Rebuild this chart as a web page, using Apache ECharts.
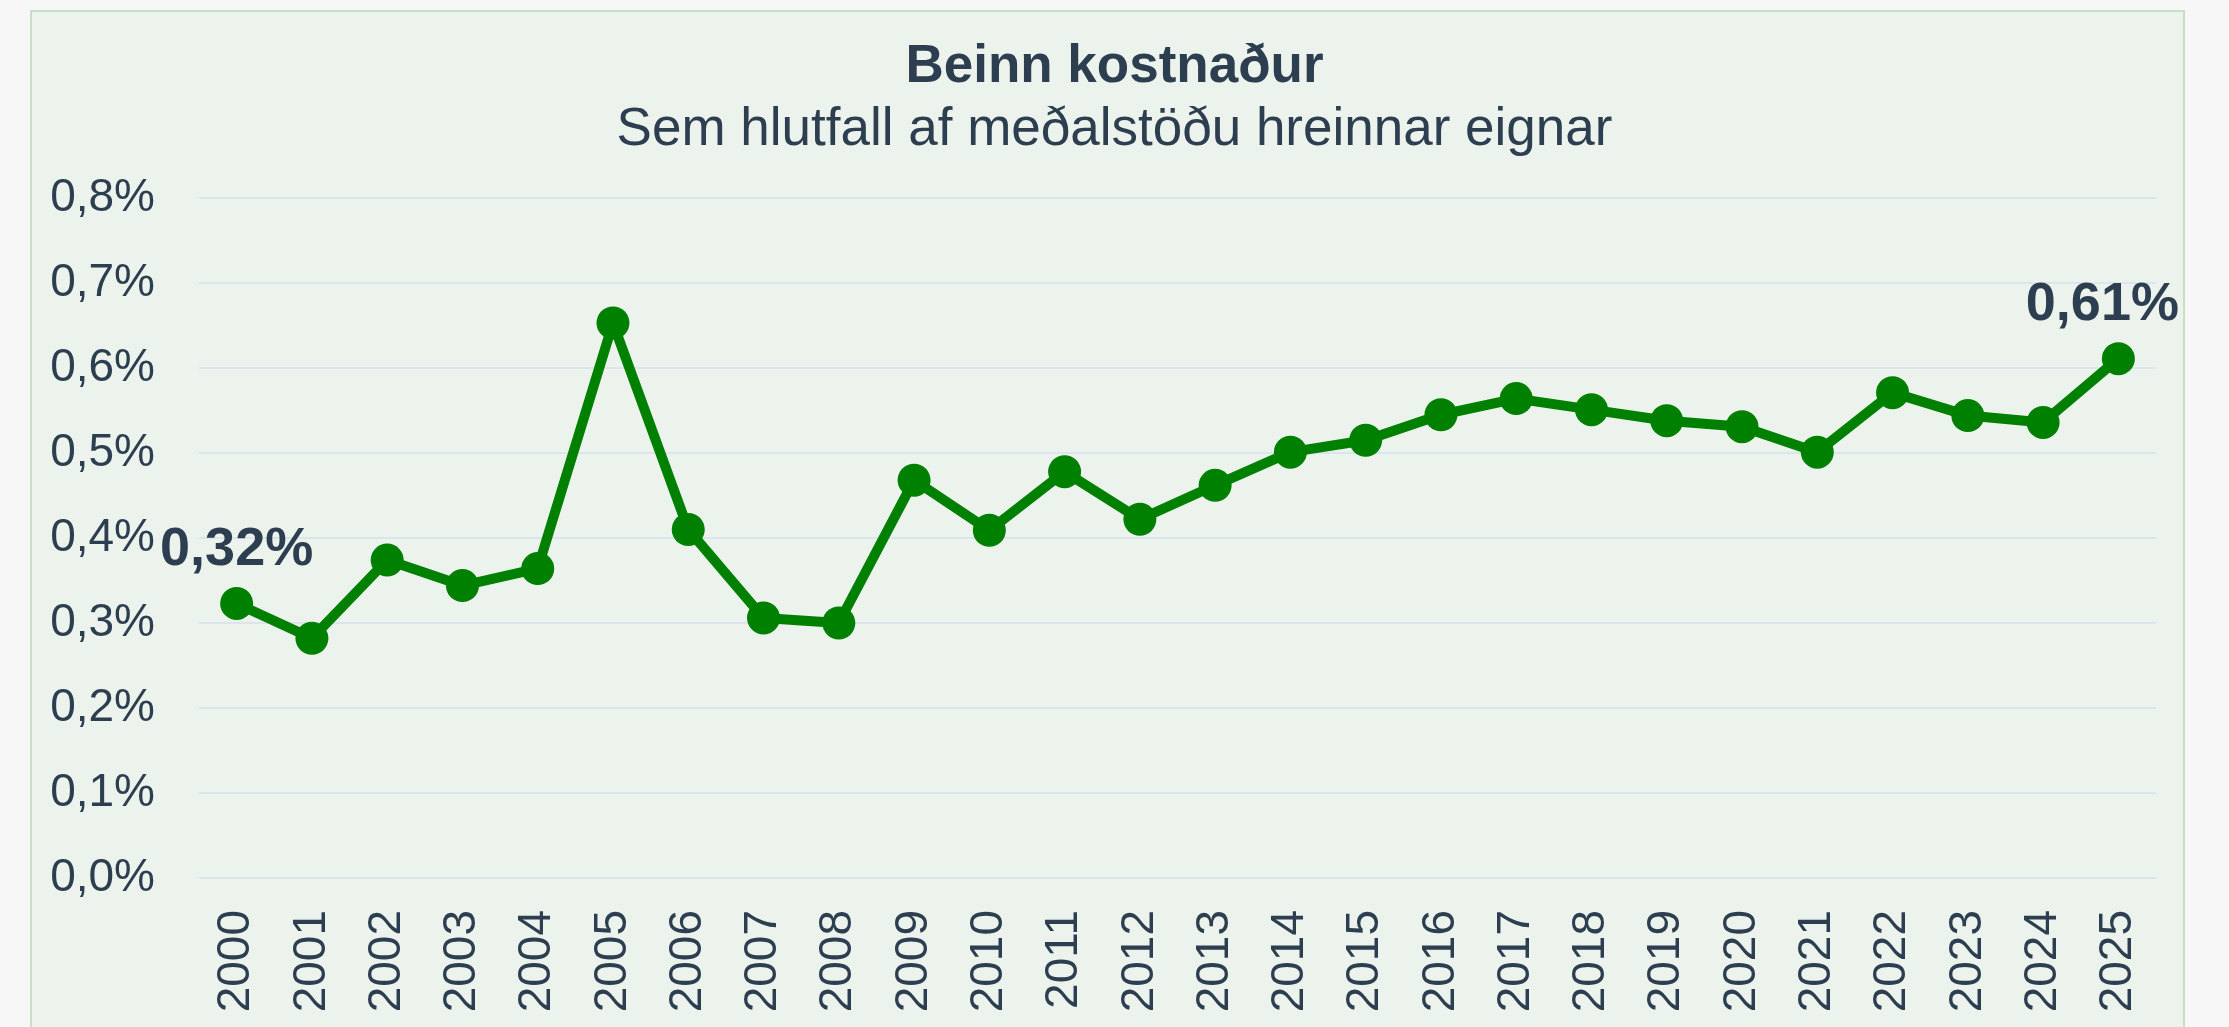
<!DOCTYPE html>
<html>
<head>
<meta charset="utf-8">
<script src="https://cdn.jsdelivr.net/npm/echarts@6/dist/echarts.min.js"></script>
<style>
  html, body {
    margin: 0;
    padding: 0;
    background: #f7f7f7;
    width: 2229px;
    height: 1027px;
    overflow: hidden;
  }
  .card {
    position: absolute;
    left: 30px;
    top: 10px;
    width: 2155px;
    height: 1100px;
    background: #ecf3ec;
    border: 2px solid #c6e0c6;
    box-sizing: border-box;
  }
  #chart {
    position: absolute;
    left: 0;
    top: 0;
    width: 2229px;
    height: 1027px;
  }
</style>
</head>
<body>
<div class="card"></div>
<div id="chart"></div>
<script>
// Ár
const years = ['2000', '2001', '2002', '2003', '2004', '2005', '2006', '2007', '2008', '2009',
  '2010', '2011', '2012', '2013', '2014', '2015', '2016', '2017', '2018', '2019',
  '2020', '2021', '2022', '2023', '2024', '2025']

// Beinn kostnaður, % af meðalstöðu hreinnar eignar
const costPct = [0.323, 0.282, 0.374, 0.344, 0.364, 0.653, 0.410, 0.306, 0.300, 0.468,
  0.409, 0.478, 0.422, 0.462, 0.501, 0.515, 0.545, 0.564, 0.551, 0.538,
  0.531, 0.501, 0.571, 0.544, 0.536, 0.611]

const yTicks = { min: 0, max: 0.8, step: 0.1 }

const titleText = 'Beinn kostnaður'
const subtitleText = 'Sem hlutfall af meðalstöðu hreinnar eignar'

const textColor = '#2c3e50'
const lineColor = '#008000'

const fmt = (v, d) => v.toFixed(d).replace('.', ',') + '%'

// bara fyrsta og síðasta gildi fá merkimiða
const seriesData = costPct.map((v, i) => {
  const item = { value: v }
  if (i === 0) {
    item.label = { show: true }
  } else if (i === costPct.length - 1) {
    item.label = { show: true, offset: [-16, 0] }
  }
  return item
})

const chart = echarts.init(document.getElementById('chart'), null, { renderer: 'canvas' })

const option = {
  backgroundColor: 'transparent',
  animation: false,
  textStyle: { fontFamily: '"Liberation Sans", Arial, sans-serif' },
  title: [
    {
      text: titleText,
      left: 'center',
      top: 36,
      textStyle: { fontSize: 53, fontWeight: 'bold', color: textColor, lineHeight: 53 }
    },
    {
      text: subtitleText,
      left: 'center',
      top: 99,
      textStyle: { fontSize: 53, fontWeight: 'normal', color: textColor, lineHeight: 53 }
    }
  ],
  grid: {
    left: 199,
    right: 73,
    top: 198,
    bottom: 149
  },
  xAxis: {
    type: 'category',
    data: years,
    boundaryGap: true,
    axisLine: { show: false },
    axisTick: { show: false },
    axisLabel: {
      rotate: 90,
      margin: 32,
      fontSize: 46,
      color: textColor,
      interval: 0
    }
  },
  yAxis: {
    type: 'value',
    min: yTicks.min,
    max: yTicks.max,
    interval: yTicks.step,
    axisLine: { show: false },
    axisTick: { show: false },
    axisLabel: {
      margin: 44,
      fontSize: 46,
      color: textColor,
      formatter: v => fmt(v, 1)
    },
    splitLine: { lineStyle: { color: '#dce5ee', width: 2 } }
  },
  series: [
    {
      type: 'line',
      data: seriesData,
      symbol: 'circle',
      symbolSize: 33,
      lineStyle: { color: lineColor, width: 10 },
      itemStyle: { color: lineColor },
      label: {
        show: false,
        position: 'top',
        distance: 10,
        fontSize: 54,
        fontWeight: 'bold',
        color: textColor,
        formatter: p => fmt(p.value, 2)
      }
    }
  ]
}

chart.setOption(option)
</script>
</body>
</html>
